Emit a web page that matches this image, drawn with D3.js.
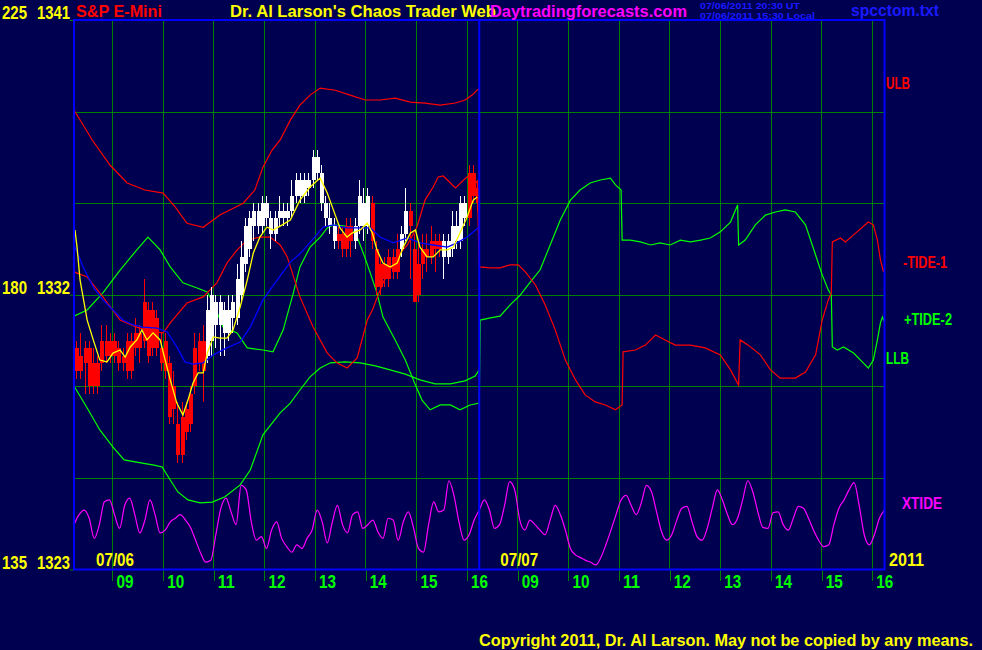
<!DOCTYPE html>
<html><head><meta charset="utf-8">
<script src="https://cdn.jsdelivr.net/npm/d3@7"></script>
<style>html,body{margin:0;padding:0;background:#000050;overflow:hidden}svg{display:block}</style>
</head><body><svg id="c" width="982" height="650"></svg>
<script>
// ---------- DATA ----------
// session hours: 0 = 08:15 on 07/06, 8 = 08:15 on 07/07 (each day shown 08:15-16:15)
const days = ["07/06", "07/07"];
const hourLabels = ["09","10","11","12","13","14","15","16"];
const priceTicks = [1323, 1326, 1329, 1332, 1335, 1338, 1341];
const leftLabels = [[1341, "225", "1341"], [1332, "180", "1332"], [1323, "135", "1323"]];

// 5-minute bars on 07/06 starting 08:15
const barOpen  = [1330.25,1329.5,1330.25,1330.25,1329.75,1329,1329.75,1330.5,1330,1330.5,1330.25,1329.75,1330.5,1329.5,1330.25,1330.75,1330.5,1331.5,1330.25,1331.25,1330.25,1330.5,1329.75,1329,1327.75,1326.75,1328.25,1327.75,1329,1329.75,1330.5,1330,1330.5,1331.75,1331,1331.5,1330.75,1331.25,1331.25,1332,1333,1333.5,1334.25,1334.75,1334.25,1335,1334.5,1334,1334.5,1334.75,1334.5,1334.75,1335.25,1335.75,1335.25,1335.75,1335.75,1336.5,1336,1335,1334.5,1334.25,1333.75,1334,1334.25,1334.25,1333.75,1334.25,1335,1334.25,1335,1333.5,1332.25,1333,1332.5,1333.25,1332.75,1333.5,1334,1334.75,1333.5,1332,1333,1333.5,1333.25,1333.75,1333.5,1333.75,1333.25,1333.5,1334.25,1333.75,1335,1334.5,1336,1335.5];
const barHigh  = [1330.5,1330.75,1330.5,1330.5,1330.25,1330,1331,1331,1330.75,1330.75,1330.5,1330.25,1330.75,1330.75,1331.25,1331,1332.5,1331.75,1331.75,1331.5,1330.75,1330.75,1330,1329.5,1328.5,1328.5,1328.5,1329,1330.75,1330.75,1331,1332,1332.25,1332,1332,1331.75,1332,1332,1333,1333.75,1334.5,1334.75,1335,1335,1335.25,1335.25,1334.75,1334.75,1335.25,1335,1335,1335.75,1336,1336,1336,1336,1336.75,1336.75,1336.25,1335.25,1335,1334.5,1334.25,1334.25,1334.5,1334.5,1334.5,1335.75,1335.5,1335.5,1335.25,1333.75,1333.25,1333.25,1333.5,1333.5,1334,1334.25,1335.5,1335,1334,1333.75,1334,1334,1334.25,1334,1334,1334,1334,1334.75,1334.75,1335.25,1335.25,1336.25,1336.25,1335.75];
const barLow   = [1329.25,1329.25,1328.75,1328.75,1328.75,1328.75,1329.5,1329.75,1329.75,1329.75,1329.5,1329.5,1329.25,1329.25,1330,1329.75,1330.25,1329.75,1330,1330,1329.5,1329.25,1327.75,1327.75,1326.5,1326.5,1327.25,1327.5,1328.75,1329.5,1328.5,1329.75,1330,1330.25,1330,1330,1330.5,1330.75,1331,1331.75,1332.75,1333.25,1333.75,1334,1334,1334.25,1333.5,1333.75,1334.25,1334.25,1334.25,1334.5,1335,1335,1335,1335.25,1335.5,1335.75,1334.75,1334.25,1334,1333.5,1333.5,1333.25,1333.25,1333.25,1333.5,1334,1333.75,1334,1333.5,1332,1332,1332.25,1332.25,1332.5,1332.5,1333.25,1333.75,1332.5,1331.75,1331.75,1332.5,1332.75,1333,1332.75,1333.25,1332.5,1333,1333.25,1333.5,1333.5,1334.25,1334.25,1335,1334.75];
const barClose = [1329.5,1330,1329.75,1329,1329,1329.75,1330.5,1330,1330.5,1330,1329.75,1330,1329.5,1330.5,1330.75,1330.25,1331.75,1330,1331.5,1330.25,1329.75,1329.5,1328,1328.25,1326.75,1328,1327.5,1328.75,1330.25,1330.5,1329.5,1331.5,1332,1331,1331.75,1330.75,1331.5,1331.75,1332.5,1333.25,1334.25,1334.5,1334.75,1334.25,1335,1334.5,1334,1334.5,1334.75,1334.5,1334.75,1335.25,1335.75,1335.25,1335.75,1335.5,1336.5,1336,1335,1334.5,1334.25,1333.75,1334,1333.5,1333.5,1333.75,1334.25,1335.25,1334.25,1335.25,1333.75,1332.25,1333,1332.5,1333.25,1332.75,1333.5,1334,1334.75,1334.25,1331.75,1333,1333.5,1333.25,1333.75,1333.5,1333.75,1333.25,1333.75,1334.25,1333.75,1335,1334.5,1336,1335.25,1335];
const barColor = "RRRRRRRRRRRRRRRRRRRRRRRRRRRRRRRWWWWWWWWWWWWWWWWWWWWWWWWWWWWWWWRRRRWWWWRRRRRRRWWRRRRRRRRWWWWWWR";

const ulbLine = [[0,1338.05],[0.36,1337.07],[0.71,1336.25],[1.05,1335.66],[1.4,1335.43],[1.76,1335.33],[2,1334.87],[2.23,1334.34],[2.55,1334.21],[2.88,1334.61],[3.34,1335.0],[3.57,1335.43],[3.73,1336.18],[3.91,1336.74],[4.07,1337.07],[4.27,1337.72],[4.46,1338.21],[4.66,1338.54],[4.86,1338.77],[5.16,1338.7],[5.45,1338.54],[5.75,1338.38],[6.04,1338.38],[6.34,1338.44],[6.64,1338.31],[6.93,1338.28],[7.23,1338.21],[7.53,1338.28],[7.72,1338.38],[7.86,1338.54],[8,1338.77]];
const llbLine = [[0,1329.01],[0.26,1328.29],[0.51,1327.57],[0.77,1327.01],[0.99,1326.59],[1.32,1326.49],[1.58,1326.42],[1.74,1326.36],[1.9,1325.93],[2.05,1325.54],[2.25,1325.28],[2.49,1325.18],[2.73,1325.21],[2.98,1325.38],[3.28,1325.77],[3.48,1326.26],[3.73,1327.41],[4.07,1328.13],[4.27,1328.45],[4.46,1328.88],[4.66,1329.31],[4.86,1329.6],[5.06,1329.77],[5.35,1329.8],[5.65,1329.77],[5.95,1329.67],[6.24,1329.54],[6.54,1329.4],[6.83,1329.21],[7.13,1329.08],[7.43,1329.08],[7.72,1329.18],[7.92,1329.34],[8,1329.54]];
const tide1Line = [[0,1332.75],[0.26,1332.58],[0.57,1331.93],[0.91,1331.17],[1.24,1330.94],[1.5,1330.81],[1.76,1330.75],[1.9,1331.08],[2.23,1331.73],[2.55,1331.93],[2.82,1332.39],[3.02,1333.04],[3.22,1333.47],[3.42,1333.79],[3.67,1333.89],[3.87,1333.89],[4.07,1333.63],[4.21,1333.24],[4.46,1331.93],[4.72,1330.94],[5,1330.09],[5.19,1329.77],[5.39,1329.6],[5.59,1329.93],[5.79,1331.17],[5.89,1331.5],[6.1,1332.39],[6.38,1333.24],[6.58,1333.63],[6.77,1334.22],[6.93,1335.1],[7.09,1335.53],[7.19,1335.86],[7.29,1335.89],[7.53,1335.5],[7.76,1335.86],[7.86,1335.86],[7.96,1335.66],[8,1332.91],[8.22,1332.88],[8.41,1332.88],[8.61,1332.98],[8.77,1332.98],[8.91,1332.75],[9.11,1332.32],[9.3,1331.67],[9.5,1330.85],[9.7,1329.86],[9.9,1329.21],[10.09,1328.72],[10.29,1328.49],[10.49,1328.39],[10.69,1328.23],[10.82,1328.39],[10.84,1330.13],[11.08,1330.19],[11.28,1330.35],[11.48,1330.68],[11.67,1330.52],[11.87,1330.35],[12.17,1330.35],[12.46,1330.26],[12.76,1330.03],[12.96,1329.54],[13.12,1329.04],[13.15,1330.52],[13.31,1330.35],[13.55,1330.03],[13.75,1329.54],[13.94,1329.27],[14.24,1329.27],[14.44,1329.47],[14.64,1330.03],[14.77,1331.17],[14.89,1331.83],[14.95,1332.06],[14.97,1333.73],[15.13,1333.86],[15.23,1333.73],[15.39,1333.96],[15.68,1334.38],[15.78,1334.29],[15.86,1333.79],[15.92,1333.14],[15.98,1332.75],[16,1332.88]];
const tide2Line = [[0,1331.3],[0.26,1331.5],[0.57,1332.06],[0.91,1332.81],[1.24,1333.47],[1.46,1333.89],[1.7,1333.47],[1.9,1332.91],[2.15,1332.39],[2.43,1332.22],[2.63,1332.09],[2.75,1331.73],[2.94,1330.94],[3.22,1330.75],[3.42,1330.26],[3.73,1330.19],[3.93,1330.13],[4.13,1330.85],[4.33,1332.06],[4.46,1332.91],[4.66,1333.56],[4.86,1333.89],[5,1334.19],[5.12,1334.29],[5.35,1334.25],[5.45,1334.22],[5.59,1333.89],[5.71,1333.37],[5.85,1332.71],[5.98,1332.06],[6.1,1331.27],[6.34,1330.52],[6.54,1329.86],[6.74,1329.04],[6.87,1328.55],[7.03,1328.23],[7.23,1328.39],[7.43,1328.39],[7.62,1328.23],[7.82,1328.39],[8,1328.45],[8.02,1331.17],[8.22,1331.24],[8.41,1331.3],[8.61,1331.67],[8.81,1331.99],[9.01,1332.42],[9.2,1332.81],[9.4,1333.63],[9.6,1334.45],[9.8,1335.1],[9.99,1335.43],[10.19,1335.66],[10.39,1335.76],[10.59,1335.82],[10.69,1335.6],[10.8,1335.43],[10.82,1333.79],[10.98,1333.79],[11.18,1333.73],[11.38,1333.63],[11.57,1333.7],[11.77,1333.63],[11.97,1333.79],[12.17,1333.73],[12.37,1333.79],[12.56,1333.86],[12.76,1334.06],[12.96,1334.38],[13.1,1334.94],[13.12,1333.63],[13.25,1333.79],[13.45,1334.29],[13.65,1334.61],[13.85,1334.71],[14.04,1334.78],[14.24,1334.71],[14.44,1334.29],[14.64,1333.3],[14.77,1332.65],[14.89,1332.16],[14.95,1331.99],[14.97,1330.29],[15.07,1330.19],[15.19,1330.29],[15.39,1330.09],[15.58,1329.77],[15.68,1329.6],[15.78,1329.86],[15.86,1330.52],[15.92,1331.08],[15.96,1331.27],[16,1331.11]];
const yellowAvg = [[0.02,1334.12],[0.06,1333.56],[0.12,1332.48],[0.26,1331.17],[0.38,1330.52],[0.51,1329.86],[0.65,1329.8],[0.77,1330.09],[0.91,1330.19],[1.01,1329.96],[1.11,1330.29],[1.24,1330.52],[1.34,1330.85],[1.44,1330.52],[1.56,1330.75],[1.7,1330.52],[1.8,1329.86],[1.9,1329.21],[2.03,1328.45],[2.15,1328.06],[2.25,1328.55],[2.35,1329.11],[2.45,1329.44],[2.55,1329.44],[2.63,1330.09],[2.75,1330.62],[2.88,1330.58],[3.02,1330.58],[3.14,1330.85],[3.28,1331.6],[3.42,1332.48],[3.54,1333.37],[3.67,1333.89],[3.81,1334.22],[3.93,1334.12],[4.07,1334.25],[4.27,1334.45],[4.46,1335.1],[4.66,1335.53],[4.86,1335.82],[5,1335.33],[5.12,1334.78],[5.25,1334.19],[5.39,1333.89],[5.49,1334.02],[5.65,1334.12],[5.79,1334.35],[5.89,1334.02],[5.98,1333.47],[6.1,1333.04],[6.24,1332.91],[6.38,1333.04],[6.5,1333.56],[6.64,1334.02],[6.74,1334.12],[6.83,1333.56],[6.97,1333.24],[7.09,1333.24],[7.23,1333.47],[7.37,1333.47],[7.49,1333.56],[7.62,1334.02],[7.76,1334.55],[7.88,1335.1],[7.96,1335.2]];
const blueAvg = [[0.02,1333.56],[0.18,1332.91],[0.38,1332.25],[0.57,1331.83],[0.77,1331.5],[0.97,1331.17],[1.17,1331.01],[1.36,1330.94],[1.64,1330.91],[1.84,1330.78],[2.03,1330.29],[2.19,1329.8],[2.35,1329.73],[2.55,1329.77],[2.75,1330.03],[3.02,1330.26],[3.28,1330.45],[3.48,1330.94],[3.73,1331.83],[4.01,1332.48],[4.27,1333.07],[4.46,1333.34],[4.72,1333.83],[4.92,1334.22],[5.12,1334.29],[5.39,1334.19],[5.65,1334.19],[5.85,1334.19],[6.04,1333.89],[6.3,1333.7],[6.58,1333.86],[6.83,1333.7],[7.09,1333.63],[7.37,1333.56],[7.56,1333.7],[7.76,1333.89],[8,1334.22]];
// XTIDE sampled every 0.1 session hour, 0-100 units of the lower band
const xtide = [49,60,65,56,34,49,74,76,60,45,70,78,60,40,54,76,60,40,43,52,56,60,54,46,32,18,8,10,38,67,78,63,49,92,87,52,32,36,23,43,52,34,25,19,27,23,34,43,65,52,29,52,70,49,40,60,63,45,49,54,41,34,56,54,32,52,63,46,23,19,49,74,63,65,97,81,52,32,38,54,65,76,65,45,49,70,96,87,54,43,54,49,43,38,54,70,60,43,23,16,13,10,8,5,13,27,43,60,76,81,70,60,73,92,85,63,41,32,38,54,67,69,52,36,32,45,67,87,76,60,49,56,76,97,85,63,46,45,62,63,49,43,56,69,67,56,43,32,25,27,49,67,76,87,95,70,38,27,38,56,65];

// ---------- DRAW ----------
const W = 982, H = 650;
const svg = d3.select("#c");
const x = d3.scaleLinear().domain([0, 16]).range([74, 884.5]);
const y = d3.scaleLinear().domain([1323, 1341]).range([569.5, 20]);
const yx = d3.scaleLinear().domain([0, 100]).range([569.5, 478]);
const FONT = "'Liberation Sans', Arial, sans-serif";

svg.append("rect").attr("width", W).attr("height", H).attr("fill", "#000050");

const hourTicks = [];
days.forEach((d, di) => hourLabels.forEach(h => hourTicks.push({s: di * 8 + (+h - 8.25), label: h})));

// grid
const grid = svg.append("g").attr("stroke", "#008000").attr("stroke-width", 1).attr("shape-rendering", "crispEdges");
grid.selectAll("line.h").data(priceTicks.filter(p => p > 1323 && p < 1341)).join("line")
  .attr("x1", x(0)).attr("x2", x(16)).attr("y1", d => Math.round(y(d)) + 0.5).attr("y2", d => Math.round(y(d)) + 0.5);
grid.selectAll("line.v").data(hourTicks).join("line")
  .attr("y1", y(1341)).attr("y2", y(1323))
  .attr("x1", d => Math.round(x(d.s)) + 0.5).attr("x2", d => Math.round(x(d.s)) + 0.5);

// x axis (hours)
const xAxis = d3.axisBottom(x).tickValues(hourTicks.map(d => d.s))
  .tickFormat((d, i) => hourTicks[i].label).tickSize(11).tickPadding(0);
const gx = svg.append("g").attr("transform", `translate(0,${y(1323)})`).call(xAxis);
gx.select(".domain").remove();
gx.selectAll(".tick line").attr("stroke", "#008000").attr("shape-rendering", "crispEdges")
  .attr("transform", "translate(0.5,0)");
gx.selectAll(".tick text").attr("fill", "#00ff00").attr("font-family", FONT).attr("font-weight", "bold")
  .attr("font-size", 18).attr("text-anchor", "start").attr("x", 4).attr("y", 0).attr("dy", 0)
  .attr("transform", "translate(0,18.5)").attr("textLength", 17).attr("lengthAdjust", "spacingAndGlyphs");

// left axis ticks + labels
const yAxis = d3.axisLeft(y).tickValues(leftLabels.map(d => d[0])).tickSize(4).tickFormat("");
const gy = svg.append("g").attr("transform", `translate(${x(0)},0)`).call(yAxis);
gy.select(".domain").remove();
gy.selectAll(".tick line").attr("stroke", "#008000");
leftLabels.forEach(([p, a, b]) => {
  svg.append("text").attr("x", 2).attr("y", y(p) - 1).text(a)
    .attr("fill", "#ffff00").attr("font-family", FONT).attr("font-weight", "bold").attr("font-size", 18)
    .attr("textLength", 25).attr("lengthAdjust", "spacingAndGlyphs");
  svg.append("text").attr("x", 37).attr("y", y(p) - 1).text(b)
    .attr("fill", "#ffff00").attr("font-family", FONT).attr("font-weight", "bold").attr("font-size", 18)
    .attr("textLength", 33).attr("lengthAdjust", "spacingAndGlyphs");
});

// XTIDE
const xtLine = d3.line().x((d, i) => x(i * 0.1)).y(d => yx(d)).curve(d3.curveMonotoneX);
svg.append("path").attr("d", xtLine(xtide)).attr("fill", "none").attr("stroke", "#ff00ff").attr("stroke-width", 1.2);

const line = d3.line().x(d => x(d[0])).y(d => y(d[1]));
function drawLine(data, color, w) {
  svg.append("path").attr("d", line(data)).attr("fill", "none").attr("stroke", color).attr("stroke-width", w || 1.2);
}
drawLine(llbLine, "#00ff00");
drawLine(tide2Line, "#00ff00");
drawLine(ulbLine, "#ff0000");
drawLine(tide1Line, "#ff0000");

// candles
const bars = barOpen.map((o, i) => ({s: (i + 0.5) / 12, o, h: barHigh[i], l: barLow[i], c: barClose[i], col: barColor[i] === "W" ? "#ffffff" : "#ff0000"}));
const cg = svg.append("g").attr("shape-rendering", "crispEdges");
cg.selectAll("line").data(bars).join("line")
  .attr("x1", d => Math.round(x(d.s)) + 0.5).attr("x2", d => Math.round(x(d.s)) + 0.5)
  .attr("y1", d => y(d.h)).attr("y2", d => y(d.l)).attr("stroke", d => d.col).attr("stroke-width", 1);
cg.selectAll("rect").data(bars).join("rect")
  .attr("x", d => Math.round(x(d.s)) - 1.5).attr("width", 4)
  .attr("y", d => y(Math.max(d.o, d.c))).attr("height", d => Math.max(1, y(Math.min(d.o, d.c)) - y(Math.max(d.o, d.c))))
  .attr("fill", d => d.col);

drawLine(blueAvg, "#0000ff", 1.3);
drawLine(yellowAvg, "#ffff00", 1.3);

// frame
svg.append("rect").attr("x", x(0)).attr("y", y(1341)).attr("width", x(16) - x(0)).attr("height", y(1323) - y(1341))
  .attr("fill", "none").attr("stroke", "#0000ff").attr("stroke-width", 2);
svg.append("line").attr("x1", x(8)).attr("x2", x(8)).attr("y1", y(1341)).attr("y2", y(1323))
  .attr("stroke", "#0000ff").attr("stroke-width", 2);

// texts
function txt(t, xx, yy, color, size, len, anchor) {
  const e = svg.append("text").attr("x", xx).attr("y", yy).text(t).attr("fill", color)
    .attr("font-family", FONT).attr("font-weight", "bold").attr("font-size", size);
  if (len) e.attr("textLength", len).attr("lengthAdjust", "spacingAndGlyphs");
  if (anchor) e.attr("text-anchor", anchor);
  return e;
}
txt("S&P E-Mini", 76, 17, "#ff0000", 17, 86);
txt("Dr. Al Larson's Chaos Trader Web", 230, 17, "#ffff00", 17, 266);
txt("Daytradingforecasts.com", 490, 17, "#ff00ff", 17, 197);
txt("07/06/2011 20:30 UT", 700, 9, "#1a1aff", 9, 100);
txt("07/06/2011 15:30 Local", 700, 18.5, "#1a1aff", 9, 115);
txt("spcctom.txt", 851, 16, "#1a1aff", 17, 88);
txt(days[0], x(0) + 22, 566, "#ffff00", 18, 38);
txt(days[1], x(8) + 21, 566, "#ffff00", 18, 38);
txt("2011", 889, 566, "#ffff00", 18, 35);
txt("ULB", 886, 89, "#ff0000", 16, 24);
txt("-TIDE-1", 903, 268, "#ff0000", 16, 44);
txt("+TIDE-2", 904, 325, "#00ff00", 16, 48);
txt("LLB", 886, 364, "#00ff00", 16, 23);
txt("XTIDE", 902, 509, "#ff00ff", 16, 40);
txt("Copyright 2011, Dr. Al Larson. May not be copied by any means.", 479, 646, "#ffff00", 16.5, 494);
</script></body></html>
